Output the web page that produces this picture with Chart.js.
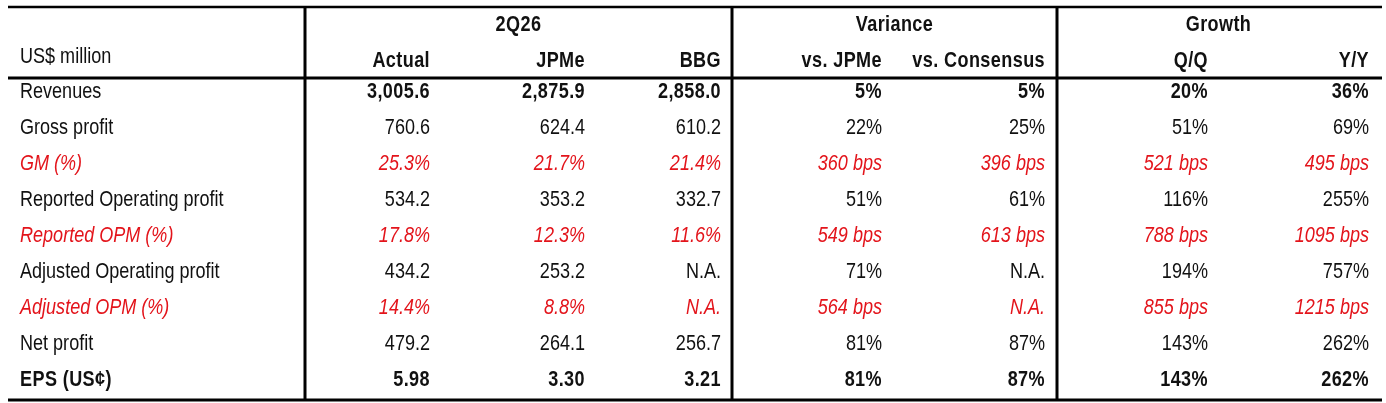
<!DOCTYPE html>
<html>
<head>
<meta charset="utf-8">
<title>2Q26 results vs estimates</title>
<script src="https://cdn.jsdelivr.net/npm/chart.js@4.4.1/dist/chart.umd.min.js"></script>
<style>
    html, body { margin: 0; padding: 0; background: #ffffff; }
    #wrap { position: relative; width: 1386px; height: 403px; }
</style>
</head>
<body>
<div id="wrap"><canvas id="resultsTable"></canvas></div>
<script>
// 表格數據
const rowLabels = [
    "Revenues", "Gross profit", "GM (%)", "Reported Operating profit", "Reported OPM (%)",
    "Adjusted Operating profit", "Adjusted OPM (%)", "Net profit", "EPS (US¢)"
];
const unitLabel = "US$ million";
const colHeaders = ["Actual", "JPMe", "BBG", "vs. JPMe", "vs. Consensus", "Q/Q", "Y/Y"];
const groupHeaders = ["2Q26", "Variance", "Growth"];

const actual      = ["3,005.6", "760.6", "25.3%", "534.2", "17.8%", "434.2", "14.4%", "479.2", "5.98"];
const jpme        = ["2,875.9", "624.4", "21.7%", "353.2", "12.3%", "253.2", "8.8%", "264.1", "3.30"];
const bbg         = ["2,858.0", "610.2", "21.4%", "332.7", "11.6%", "N.A.", "N.A.", "256.7", "3.21"];
const vsJpme      = ["5%", "22%", "360 bps", "51%", "549 bps", "71%", "564 bps", "81%", "81%"];
const vsConsensus = ["5%", "25%", "396 bps", "61%", "613 bps", "N.A.", "N.A.", "87%", "87%"];
const qoq         = ["20%", "51%", "521 bps", "116%", "788 bps", "194%", "855 bps", "143%", "143%"];
const yoy         = ["36%", "69%", "495 bps", "255%", "1095 bps", "757%", "1215 bps", "262%", "262%"];

const columns = [actual, jpme, bbg, vsJpme, vsConsensus, qoq, yoy];

// 版面 (以 1386 x 403 的座標為單位)
const colRight = [430, 585, 721, 882, 1045, 1208, 1369];
const groupSpan = [[305, 732], [732, 1057], [1057, 1380]];
const labelX = 20;
const rowTop = 92;
const rowStep = 36;
const groupY = 25;
const unitY = 57;
const headY = 61;
const hLines = [{ y: 7, w: 2.5 }, { y: 78, w: 3 }, { y: 400, w: 3 }];
const vLines = [305, 732, 1057];
const lineLeft = 8, lineRight = 1382;
// 每列樣式: boldVal = 數值粗體, bold = 全列粗體, pct = 紅色斜體
const rowKind = ["boldVal", "plain", "pct", "plain", "pct", "plain", "pct", "plain", "bold"];
const RED = "#e3141b";
const INK = "#111111";
const FONT_PX = 22;

// 檢查是否有 Liberation Sans Narrow, 沒有就用水平壓縮
const narrowOK = (() => {
    const c = document.createElement("canvas").getContext("2d");
    const probe = "Reported Operating profit";
    c.font = FONT_PX + "px monospace";
    const a = c.measureText(probe).width;
    c.font = FONT_PX + 'px "Liberation Sans Narrow", monospace';
    const b = c.measureText(probe).width;
    return Math.abs(a - b) > 1;
})();
const FAMILY = narrowOK ? '"Liberation Sans Narrow", "Liberation Sans"' : '"Liberation Sans", Arial, sans-serif';
const SQUEEZE = narrowOK ? 1 : 0.82;

function rowY(i) {
    return rowTop + rowStep * i;
}

function drawText(ctx, text, x, y, opts) {
    ctx.save();
    ctx.font = (opts.italic ? "italic " : "") + (opts.bold ? "bold " : "") + FONT_PX + "px " + FAMILY;
    ctx.fillStyle = opts.color || INK;
    ctx.textAlign = opts.align || "left";
    ctx.textBaseline = "middle";
    if (opts.bold) ctx.letterSpacing = "0.5px";
    ctx.translate(x, y);
    ctx.scale(SQUEEZE, 1);
    ctx.fillText(text, 0, 0);
    ctx.restore();
}

const tablePlugin = {
    id: "tablePlugin",
    afterDatasetsDraw(chart) {
        const ctx = chart.ctx;
        const xs = chart.scales.x;
        const ys = chart.scales.y;

        // 框線
        ctx.save();
        ctx.strokeStyle = "#000000";
        hLines.forEach(l => {
            ctx.lineWidth = l.w;
            ctx.beginPath();
            ctx.moveTo(xs.getPixelForValue(lineLeft), ys.getPixelForValue(l.y));
            ctx.lineTo(xs.getPixelForValue(lineRight), ys.getPixelForValue(l.y));
            ctx.stroke();
        });
        ctx.lineWidth = 3;
        vLines.forEach(vx => {
            ctx.beginPath();
            ctx.moveTo(xs.getPixelForValue(vx), ys.getPixelForValue(hLines[0].y));
            ctx.lineTo(xs.getPixelForValue(vx), ys.getPixelForValue(hLines[2].y));
            ctx.stroke();
        });
        ctx.restore();

        // 表頭
        groupHeaders.forEach((g, k) => {
            const cx = (groupSpan[k][0] + groupSpan[k][1]) / 2;
            drawText(ctx, g, xs.getPixelForValue(cx), ys.getPixelForValue(groupY), { align: "center", bold: true });
        });
        drawText(ctx, unitLabel, xs.getPixelForValue(labelX), ys.getPixelForValue(unitY), {});
        colHeaders.forEach((h, c) => {
            drawText(ctx, h, xs.getPixelForValue(colRight[c]), ys.getPixelForValue(headY), { align: "right", bold: true });
        });

        // 各列文字 (位置取自 dataset 元素)
        chart.data.datasets.forEach((ds, d) => {
            const meta = chart.getDatasetMeta(d);
            meta.data.forEach((pt, i) => {
                const kind = rowKind[i];
                const isLabel = ds.isLabel;
                drawText(ctx, ds.texts[i], pt.x, pt.y, {
                    align: isLabel ? "left" : "right",
                    bold: kind === "bold" || (kind === "boldVal" && !isLabel),
                    italic: kind === "pct",
                    color: kind === "pct" ? RED : INK
                });
            });
        });
    }
};

const datasets = [{
    label: unitLabel,
    isLabel: true,
    texts: rowLabels,
    data: rowLabels.map((_, i) => ({ x: labelX, y: rowY(i) })),
    pointRadius: 0
}].concat(columns.map((col, c) => ({
    label: colHeaders[c],
    isLabel: false,
    texts: col,
    data: col.map((_, i) => ({ x: colRight[c], y: rowY(i) })),
    pointRadius: 0
})));

new Chart(document.getElementById("resultsTable").getContext("2d"), {
    type: "scatter",
    data: { datasets: datasets },
    options: {
        responsive: true,
        maintainAspectRatio: false,
        animation: false,
        events: [],
        layout: { padding: 0 },
        plugins: {
            legend: { display: false },
            tooltip: { enabled: false }
        },
        scales: {
            x: { type: "linear", min: 0, max: 1386, display: false },
            y: { type: "linear", min: 0, max: 403, reverse: true, display: false }
        }
    },
    plugins: [tablePlugin]
});
</script>
</body>
</html>
